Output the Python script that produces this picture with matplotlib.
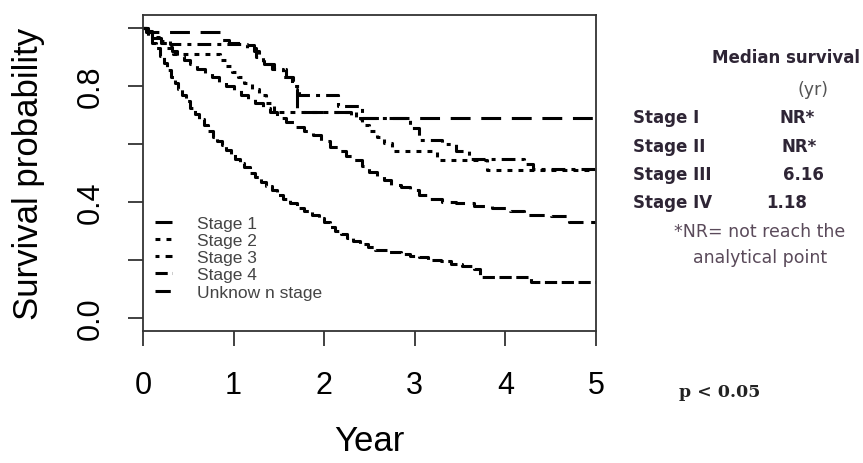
import matplotlib
matplotlib.use("Agg")
import matplotlib.pyplot as plt

plt.rcParams['font.family'] = ['Liberation Sans', 'DejaVu Sans']

# Kaplan-Meier step curves (years, survival probability)
stage1_t = [0, 0.04, 0.08, 0.85, 0.95, 1.1, 1.22, 1.28, 1.34, 1.42, 1.58, 1.66, 1.7, 2.3, 5.0]
stage1_s = [1.0, 0.99, 0.986, 0.96, 0.95, 0.94, 0.92, 0.895, 0.875, 0.86, 0.83, 0.79, 0.71,
            0.69, 0.69]

stage2_t = [0, 0.04, 0.1, 0.18, 0.26, 0.33, 0.85, 0.92, 0.98, 1.05, 1.12, 1.2, 1.28, 1.36,
            1.45, 2.35, 2.42, 2.5, 2.58, 2.66, 2.75, 3.25, 3.8, 5.0]
stage2_s = [1.0, 0.985, 0.97, 0.95, 0.93, 0.91, 0.89, 0.87, 0.85, 0.83, 0.81, 0.79, 0.77,
            0.74, 0.71, 0.685, 0.665, 0.645, 0.625, 0.605, 0.575, 0.545, 0.51, 0.51]

stage3_t = [0, 0.04, 0.1, 0.2, 0.3, 1.15, 1.25, 1.32, 1.45, 1.55, 1.65, 1.72, 2.15, 2.42,
            2.95, 3.05, 3.3, 3.45, 3.6, 4.1, 4.2, 4.3, 5.0]
stage3_s = [1.0, 0.985, 0.965, 0.955, 0.945, 0.93, 0.9, 0.875, 0.86, 0.83, 0.80, 0.77, 0.73,
            0.69, 0.655, 0.615, 0.6, 0.575, 0.55, 0.547, 0.53, 0.515, 0.515]

stage4_t = [0, 0.03, 0.06, 0.1, 0.14, 0.19, 0.23, 0.27, 0.31, 0.35,
            0.39, 0.43, 0.47, 0.52, 0.57, 0.62, 0.67, 0.72, 0.77, 0.82,
            0.87, 0.92, 0.97, 1.02, 1.07, 1.12, 1.18, 1.24, 1.3, 1.36,
            1.42, 1.48, 1.55, 1.62, 1.7, 1.78, 1.86, 1.94, 2.0, 2.06,
            2.12, 2.18, 2.25, 2.32, 2.4, 2.48, 2.56, 2.7, 2.85, 2.95,
            3.05, 3.15, 3.29, 3.4, 3.52, 3.65, 3.72, 4.28, 5.0]
stage4_s = [1.0, 0.985, 0.97, 0.95, 0.93, 0.905, 0.88, 0.855, 0.83, 0.81,
            0.79, 0.77, 0.75, 0.725, 0.705, 0.685, 0.665, 0.645, 0.625, 0.61,
            0.595, 0.58, 0.565, 0.55, 0.535, 0.52, 0.50, 0.485, 0.47, 0.455,
            0.44, 0.425, 0.41, 0.395, 0.38, 0.37, 0.355, 0.345, 0.33, 0.315,
            0.30, 0.29, 0.275, 0.265, 0.255, 0.245, 0.235, 0.228, 0.222, 0.215,
            0.21, 0.2, 0.195, 0.185, 0.178, 0.17, 0.14, 0.125, 0.125]

unknown_t = [0, 0.05, 0.1, 0.15, 0.2, 0.26, 0.32, 0.38, 0.45, 0.52,
             0.6, 0.68, 0.76, 0.84, 0.92, 1.0, 1.08, 1.16, 1.24, 1.32,
             1.4, 1.48, 1.58, 1.68, 1.78, 1.88, 1.97, 2.06, 2.15, 2.24,
             2.33, 2.42, 2.5, 2.58, 2.66, 2.74, 2.85, 2.95, 3.05, 3.15,
             3.3, 3.45, 3.65, 3.85, 4.05, 4.2, 4.5, 4.7, 5.0]
unknown_s = [1.0, 0.99, 0.98, 0.965, 0.95, 0.935, 0.92, 0.905, 0.89, 0.875,
             0.86, 0.845, 0.83, 0.815, 0.80, 0.785, 0.77, 0.755, 0.74, 0.725,
             0.71, 0.69, 0.675, 0.66, 0.645, 0.63, 0.61, 0.59, 0.575, 0.56,
             0.545, 0.525, 0.505, 0.49, 0.475, 0.46, 0.45, 0.44, 0.425, 0.41,
             0.40, 0.395, 0.385, 0.38, 0.37, 0.356, 0.35, 0.33, 0.33]

labels = ['Stage 1', 'Stage 2', 'Stage 3', 'Stage 4', 'Unknow n stage']

# median survival table
table_stages = ['Stage I', 'Stage II', 'Stage III', 'Stage IV']
table_median = ['NR*', 'NR*', '6.16', '1.18']

fig = plt.figure(figsize=(8.63, 4.64), dpi=100)
ax = fig.add_axes([0.1657, 0.2845, 0.5249, 0.681])

curves = [
    (stage1_t, stage1_s, (0, (6.5, 3.5))),
    (stage2_t, stage2_s, (0, (1.6, 2.0))),
    (stage3_t, stage3_s, (0, (1.3, 2.0, 4.5, 2.0))),
    (stage4_t, stage4_s, (0, (4.0, 1.5))),
    (unknown_t, unknown_s, (0, (5.0, 2.5))),
]
for (t, s, ls), lab in zip(curves, labels):
    ax.step(t, s, where='post', color='black', lw=2.2, linestyle=ls, label=lab)

ax.set_xlim(0, 5)
ax.set_ylim(-0.045, 1.045)
ax.set_xticks([0, 1, 2, 3, 4, 5])
ax.set_yticks([0, 0.2, 0.4, 0.6, 0.8, 1.0])
ax.set_yticklabels(['0.0', '', '0.4', '', '0.8', ''], rotation=90, va='center')
ax.tick_params(axis='both', labelsize=22, length=11, width=1.3, color='#333333',
               direction='out')
ax.tick_params(axis='x', pad=17)
ax.tick_params(axis='y', pad=16)
for sp in ax.spines.values():
    sp.set_linewidth(1.3)
    sp.set_color('#333333')

ax.set_xlabel('Year', fontsize=25, va='center')
ax.xaxis.set_label_coords(0.5, -0.345)
ax.set_ylabel('Survival probability', fontsize=25, va='center')
ax.yaxis.set_label_coords(-0.252, 0.5)

leg = ax.legend(loc='lower left', bbox_to_anchor=(0.0265, 0.099), frameon=False,
                fontsize=12.5, handlelength=1.0, handletextpad=1.44, labelspacing=0.12,
                borderpad=0, borderaxespad=0)
for txt in leg.get_texts():
    txt.set_color('#444444')

# median survival table on the right
dark = '#2e2535'
soft = '#5a4a5a'
fig.text(786 / 863, 1 - 58 / 464, 'Median survival', fontsize=12, fontweight='bold',
         family='DejaVu Sans', color=dark, ha='center', va='center')
fig.text(813 / 863, 1 - 90 / 464, '(yr)', fontsize=12.5, family='DejaVu Sans',
         color='#555555', ha='center', va='center')
row_y = [118, 147, 175, 203]
med_x = [797, 799, 803, 787]
for st, md, yy, mx in zip(table_stages, table_median, row_y, med_x):
    fig.text(633 / 863, 1 - yy / 464, st, fontsize=12, fontweight='bold',
             family='DejaVu Sans', color=dark, ha='left', va='center')
    fig.text(mx / 863, 1 - yy / 464, md, fontsize=12, fontweight='bold',
             family='DejaVu Sans', color=dark, ha='center', va='center')
fig.text(760 / 863, 1 - 232 / 464, '*NR= not reach the', fontsize=12.5,
         family='DejaVu Sans', color=soft, ha='center', va='center')
fig.text(760 / 863, 1 - 258 / 464, 'analytical point', fontsize=12.5,
         family='DejaVu Sans', color=soft, ha='center', va='center')

fig.text(720 / 863, 1 - 393 / 464, 'p < 0.05', fontsize=12.5, fontweight='bold',
         family='DejaVu Serif', color='#222222', ha='center', va='center')

fig.savefig('out.png', dpi=100)
